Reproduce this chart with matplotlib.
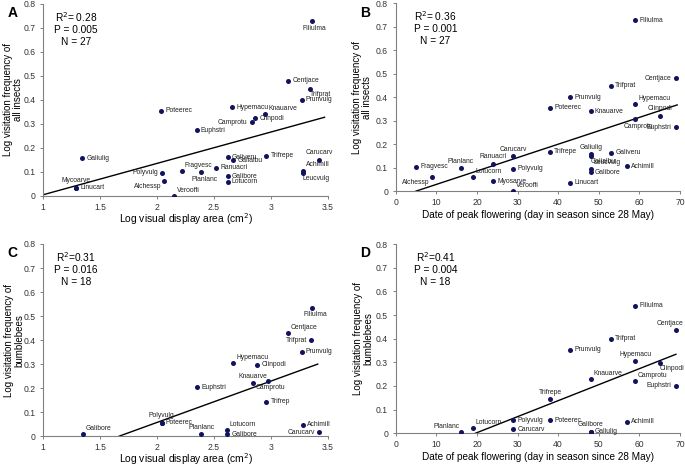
import matplotlib as mpl
mpl.use('Agg')
import matplotlib.pyplot as plt

plt.rcParams['font.family'] = ['Liberation Sans', 'DejaVu Sans']

# ---- data ----
# panel A: log display area vs log visitation (all insects)
a_names = ['Filiulma', 'Centjace', 'Trifprat', 'Prunvulg', 'Hypemacu', 'Poteerec', 'Knauarve',
           'Clinpodi', 'Camprotu', 'Euphstri', 'Galiulig', 'Galiveru', 'Galialbu', 'Trifrepe',
           'Carucarv', 'Achimill', 'Leucvulg', 'Fragvesc', 'Ranuacri', 'Polyvulg', 'Planlanc',
           'Galibore', 'Lotucorn', 'Mycoarve', 'Linucart', 'Alchessp', 'Verooffi']
a_x = [3.36, 3.15, 3.34, 3.27, 2.66, 2.035, 2.95, 2.86, 2.83, 2.347, 1.344, 2.62, 2.67, 2.96,
       3.42, 3.28, 3.28, 2.22, 2.52, 2.044, 2.39, 2.62, 2.62, 1.29, 1.29, 2.06, 2.15]
a_y = [0.728, 0.48, 0.447, 0.40, 0.37, 0.355, 0.34, 0.324, 0.307, 0.273, 0.157, 0.161, 0.148,
       0.167, 0.151, 0.106, 0.097, 0.104, 0.118, 0.097, 0.098, 0.083, 0.059, 0.035, 0.035,
       0.062, 0.0]
a_fit = (1.0, 3.47, 0.005, 0.328)  # x0, x1, y0, y1 of regression line

# panel B: peak flowering date vs log visitation (all insects)
b_names = ['Filiulma', 'Centjace', 'Trifprat', 'Prunvulg', 'Hypemacu', 'Clinpodi', 'Poteerec',
           'Knauarve', 'Camprotu', 'Euphstri', 'Carucarv', 'Trifrepe', 'Galiulig', 'Galialbu',
           'Leucvulg', 'Galibore', 'Galiveru', 'Achimill', 'Linucart', 'Fragvesc', 'Planlanc',
           'Alchessp', 'Ranuacri', 'Lotucorn', 'Myosarve', 'Polyvulg', 'Verooffi']
b_x = [59, 69, 53, 43, 59, 65, 38, 48, 59, 69, 29, 38, 48, 48, 48, 48, 53, 57, 43, 5, 16, 9,
       24, 19, 24, 29, 29]
b_y = [0.727, 0.481, 0.448, 0.40, 0.372, 0.321, 0.356, 0.34, 0.306, 0.273, 0.149, 0.167,
       0.157, 0.149, 0.096, 0.081, 0.163, 0.106, 0.036, 0.104, 0.097, 0.061, 0.117, 0.059,
       0.041, 0.096, 0.0]
b_fit = (5.0, 69.3, 0.0, 0.367)

# panel C: log display area vs log visitation (bumblebees)
c_names = ['Filiulma', 'Centjace', 'Trifprat', 'Prunvulg', 'Hypemacu', 'Clinpodi', 'Knauarve',
           'Camprotu', 'Euphstri', 'Trifrep', 'Polyvulg', 'Poteerec', 'Galibore', 'Planlanc',
           'Lotucorn', 'Galibore', 'Achimill', 'Carucarv']
c_x = [3.363, 3.15, 3.35, 3.27, 2.67, 2.88, 2.84, 2.97, 2.35, 2.96, 2.04, 2.04, 1.35, 2.39,
       2.615, 2.615, 3.28, 3.42]
c_y = [0.535, 0.43, 0.40, 0.352, 0.305, 0.298, 0.22, 0.231, 0.204, 0.144, 0.056, 0.056,
       0.007, 0.007, 0.025, 0.007, 0.047, 0.017]
c_fit = (1.668, 3.41, 0.0, 0.30)

# panel D: peak flowering date vs log visitation (bumblebees)
d_names = ['Filiulma', 'Centjace', 'Trifprat', 'Prunvulg', 'Hypemacu', 'Clinpodi', 'Camprotu',
           'Euphstri', 'Knauarve', 'Trifrepe', 'Poteerec', 'Polyvulg', 'Carucarv', 'Lotucorn',
           'Planlanc', 'Galibore', 'Galiulig', 'Achimill']
d_x = [59, 69, 53, 43, 59, 65, 59, 69, 48, 38, 38, 29, 29, 19, 16, 48, 48, 57]
d_y = [0.539, 0.435, 0.40, 0.354, 0.304, 0.297, 0.22, 0.202, 0.231, 0.143, 0.056, 0.055,
       0.017, 0.024, 0.007, 0.007, 0.007, 0.049]
d_fit = (19.6, 69.0, 0.0, 0.334)

stats = [('R$^2$= 0.28', 'P = 0.005', 'N = 27'),
         ('R$^2$= 0.36', 'P = 0.001', 'N = 27'),
         ('R$^2$=0.31', 'P = 0.016', 'N = 18'),
         ('R$^2$=0.41', 'P = 0.004', 'N = 18')]

# label placement per point (r/l/a/b and combos)
a_pos = ['b', 'r', 'br', 'r', 'r', 'r', 'ar', 'r', 'l', 'r', 'r', 'r', 'r', 'r', 'a', 'ar',
         'br', 'ar', 'r', 'l', 'b', 'r', 'r', 'a', 'r', 'bl', 'ar']
b_pos = ['r', 'l', 'r', 'r', 'ar', 'a', 'r', 'r', 'b', 'l', 'a', 'r', 'a', 'br', 'ar', 'r',
         'r', 'r', 'r', 'r', 'a', 'bl', 'a', 'ar', 'r', 'r', 'ar']
c_pos = ['b', 'ar', 'l', 'r', 'ar', 'r', 'a', 'b', 'r', 'r', 'a', 'r', 'ar', 'a', 'ar', 'r',
         'r', 'l']
d_pos = ['r', 'A', 'r', 'r', 'a', 'br', 'ar', 'l', 'ar', 'a', 'r', 'r', 'r', 'ar', 'al', 'a',
         'r', 'r']

OFFS = {'r': (3, 0, 'left', 'center'), 'l': (-3, 0, 'right', 'center'),
        'a': (0, 2.5, 'center', 'bottom'), 'b': (2, -2.5, 'center', 'top'),
        'ar': (2, 1.5, 'left', 'bottom'), 'al': (-1, 1.5, 'right', 'bottom'),
        'br': (0, -1.5, 'left', 'top'), 'bl': (-2, -1.5, 'right', 'top'),
        'A': (5, 2.5, 'right', 'bottom')}

DOT = '#12125e'
GREY = '#808080'

fig = plt.figure(figsize=(6.85, 4.65), dpi=100)

panels = [
    ('A', [0.0628, 0.5785, 0.416, 0.4130], a_names, a_x, a_y, a_fit, a_pos, 'area', 'all insects', -0.07),
    ('B', [0.5777, 0.5890, 0.415, 0.4040], b_names, b_x, b_y, b_fit, b_pos, 'date', 'all insects', -0.083),
    ('C', [0.0628, 0.0620, 0.416, 0.4133], c_names, c_x, c_y, c_fit, c_pos, 'area', 'bumblebees', -0.065),
    ('D', [0.5777, 0.0682, 0.415, 0.4070], d_names, d_x, d_y, d_fit, d_pos, 'date', 'bumblebees', -0.08),
]

for i, (letter, rect, names, xs, ys, fit, pos, kind, group, ylx) in enumerate(panels):
    ax = fig.add_axes(rect)
    ax.plot([fit[0], fit[1]], [fit[2], fit[3]], color='black', linewidth=1.0, zorder=2)
    ax.scatter(xs, ys, s=13, color=DOT, zorder=3, linewidths=0)
    for name, x, y, p in zip(names, xs, ys, pos):
        dx, dy, ha, va = OFFS[p]
        ax.annotate(name, (x, y), xytext=(dx, dy), textcoords='offset points',
                    ha=ha, va=va, fontsize=4.9, color='#222222')

    if kind == 'area':
        ax.set_xlim(1, 3.5)
        ax.set_xticks([1, 1.5, 2, 2.5, 3, 3.5])
        ax.set_xticklabels(['1', '1.5', '2', '2.5', '3', '3.5'])
        ax.set_xlabel('Log visual display area (cm$^2$)', fontsize=7.4, labelpad=-0.5)
    else:
        ax.set_xlim(0, 70)
        ax.set_xticks(range(0, 71, 10))
        ax.set_xlabel('Date of peak flowering (day in season since 28 May)', fontsize=7.2,
                      labelpad=2)
    ax.set_ylim(0, 0.8)
    yt = [k / 10 for k in range(9)]
    ax.set_yticks(yt)
    ax.set_yticklabels(['0'] + ['%.1f' % v for v in yt[1:]])
    ax.set_ylabel('Log visitation frequency of\n' + group, fontsize=7.0, linespacing=1.0)
    ax.yaxis.set_label_coords(ylx, 0.5)

    for s in ['top', 'right']:
        ax.spines[s].set_visible(False)
    for s in ['left', 'bottom']:
        ax.spines[s].set_color(GREY)
        ax.spines[s].set_linewidth(0.8)
    ax.tick_params(length=2.5, width=0.7, color=GREY, labelsize=6.2, labelcolor='#333333',
                   pad=3)
    ax.tick_params(axis='x', pad=2.5)

    ax.text(0.115 if i % 2 == 0 else 0.14, 0.97, '\n'.join(stats[i]), transform=ax.transAxes,
            ha='center', va='top', fontsize=7.3, linespacing=1.2)
    fig.text(rect[0] - 0.052, rect[1] + rect[3] - 0.02, letter, fontsize=10,
             fontweight='bold', ha='left', va='center')

fig.savefig('out.png', dpi=100)
